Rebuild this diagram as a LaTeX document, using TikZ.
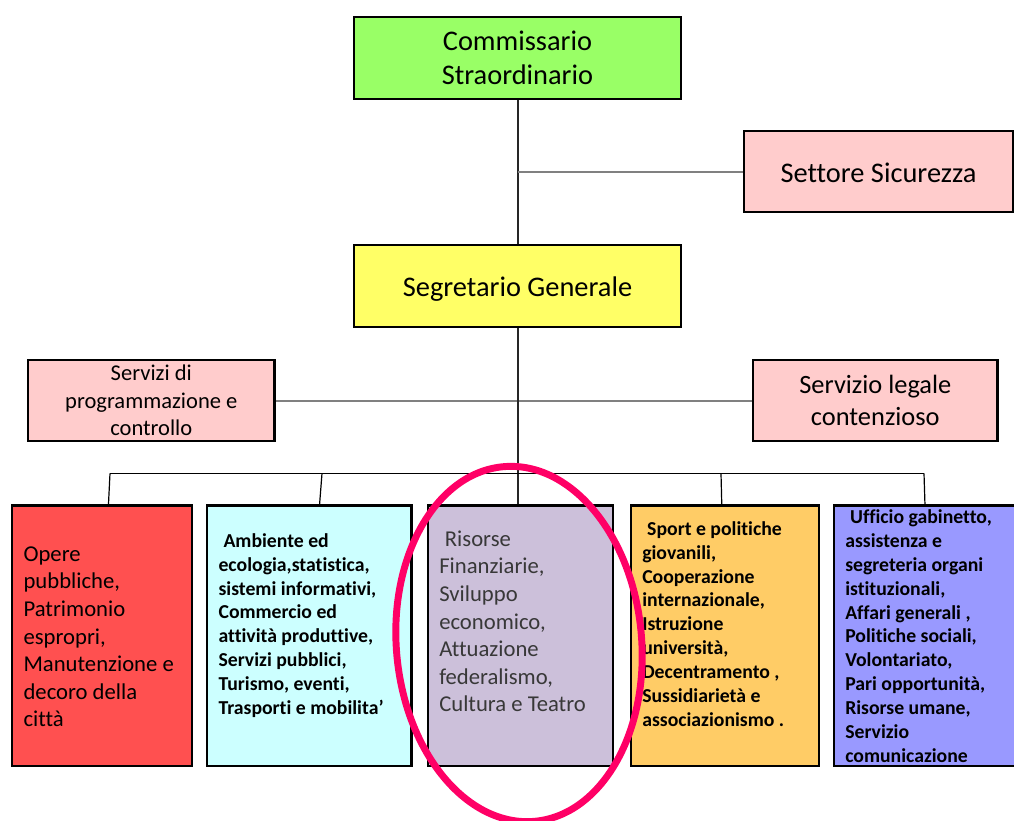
\documentclass[tikz,border=0pt]{standalone}
\usepackage{fontspec}
\setmainfont[Ligatures={NoCommon}]{Carlito}

\definecolor{cgreen}{HTML}{99FF66}
\definecolor{cyellow}{HTML}{FFFF66}
\definecolor{cpink}{HTML}{FFCCCC}
\definecolor{cred}{HTML}{FF5050}
\definecolor{ccyan}{HTML}{CCFFFF}
\definecolor{clilac}{HTML}{CCC0DA}
\definecolor{corange}{HTML}{FFCC66}
\definecolor{cblue}{HTML}{9999FF}
\definecolor{cmagenta}{HTML}{FF0066}

\pgfdeclarelayer{links}
\pgfsetlayers{links,main}

\begin{document}
\begin{tikzpicture}[x=0.75pt,y=-0.75pt,
  box/.style={draw=black, line width=2.2pt, rectangle, inner sep=0pt, align=center},
  unitbox/.style={box, minimum width=#1, minimum height=195.4pt},
  trunk/.style={draw=black!85, line width=1.5pt},
  side/.style={draw=black!50, line width=1.5pt},
  bus/.style={draw=black, line width=0.9pt},
  blocktext/.style={anchor=north west, inner sep=0pt, align=left},
  fTop/.style={font=\fontsize{21.3}{25.5}\selectfont},
  fProg/.style={font=\fontsize{16.9}{20.6}\selectfont},
  fLeg/.style={font=\fontsize{19.8}{24}\selectfont},
  fReg/.style={font=\fontsize{17}{20.7}\selectfont},
  fBold/.style={font=\fontsize{14.8}{17.9}\selectfont\bfseries},
  oval/.style={draw=cmagenta, line width=5.2pt}
]
\useasboundingbox (0,0) rectangle (1014,821);

% ---- boxes of the upper levels
\node[box, fill=cgreen, fTop, minimum width=245.25pt, minimum height=61.5pt] (comm) at (517.5,58) {Commissario\\Straordinario};
\node[box, fill=cpink, fTop, minimum width=201.75pt, minimum height=60.75pt, text height=16.2pt, text depth=0pt] (sic) at (878.5,171.5) {Settore Sicurezza};
\node[box, fill=cyellow, fTop, minimum width=245.25pt, minimum height=61.5pt, text height=16pt, text depth=0pt] (seg) at (517.5,286) {Segretario Generale};
\node[box, fill=cpink, fProg, minimum width=185pt, minimum height=60.75pt] (prog) at (151.3,400.5) {Servizi di\\programmazione e\\controllo};
\node[box, fill=cpink, fLeg, minimum width=183.5pt, minimum height=60.75pt] (leg) at (875.3,400.5) {Servizio legale\\contenzioso};

% ---- bottom row of sectors
\node[unitbox=135pt, fill=cred] (b1) at (102,635.75) {};
\node[unitbox=153.5pt, fill=ccyan] (b2) at (309.35,635.75) {};
\node[unitbox=138.75pt, fill=clilac] (b3) at (520.5,635.75) {};
\node[unitbox=141pt, fill=corange] (b4) at (725,635.75) {};
\node[unitbox=142.5pt, fill=cblue] (b5) at (929,635.75) {};

% ---- connectors, kept below the boxes
\coordinate (j1) at (comm.south |- sic.west);
\coordinate (bus1) at (110,473.3);
\coordinate (bus2) at (322,473.3);
\coordinate (bus4) at (721,473.3);
\coordinate (bus5) at (924,473.3);
\begin{pgfonlayer}{links}
\draw[trunk] (comm.center) -- (seg.center);
\draw[side] (j1) -- (sic.center);
\draw[side] (prog.center) -- (prog.center -| leg.center);
\draw[trunk] (seg.center) -- (seg.center |- b3.center);
\draw[bus] (bus1) -- (bus5);
\draw[bus] (bus1) -- (b1.center);
\draw[bus] (bus2) -- (b2.center);
\draw[bus] (bus4) -- (b4.center);
\draw[bus] (bus5) -- (b5.center);
\end{pgfonlayer}

% ---- texts of the sectors
\node[blocktext, fReg] (t1) at (23.3,541.7)
  {\strut Opere\\pubbliche,\\Patrimonio\\espropri,\\Manutenzione e\\decoro della\\città};
\node[blocktext, fBold] (t2) at (218.3,530.4)
  {\strut\hspace*{0.25em}Ambiente ed\\ecologia,statistica,\\sistemi informativi,\\Commercio ed\\attività produttive,\\Servizi pubblici,\\Turismo, eventi,\\Trasporti e mobilita’};
\node[blocktext, fReg, text=black!78] (t3) at (439,526.7)
  {\strut\hspace*{0.25em}Risorse\\Finanziarie,\\Sviluppo\\economico,\\Attuazione\\federalismo,\\Cultura e Teatro};
\node[blocktext, fBold] (t4) at (642,518.3)
  {\strut\hspace*{0.25em}Sport e politiche\\giovanili,\\Cooperazione\\internazionale,\\Istruzione\\università,\\Decentramento ,\\Sussidiarietà e\\associazionismo .};
\node[blocktext, fBold] (t5) at (845,506.6)
  {\strut\hspace*{0.25em}Ufficio gabinetto,\\assistenza e\\segreteria organi\\istituzionali,\\Affari generali ,\\Politiche sociali,\\Volontariato,\\Pari opportunità,\\Risorse umane,\\Servizio\\comunicazione};

% ---- highlight around the financial sector, slightly tilted
\draw[oval, rotate around={5:(519,644)}] (519,644) ellipse [x radius=92pt, y radius=133.5pt];
\end{tikzpicture}
\end{document}
